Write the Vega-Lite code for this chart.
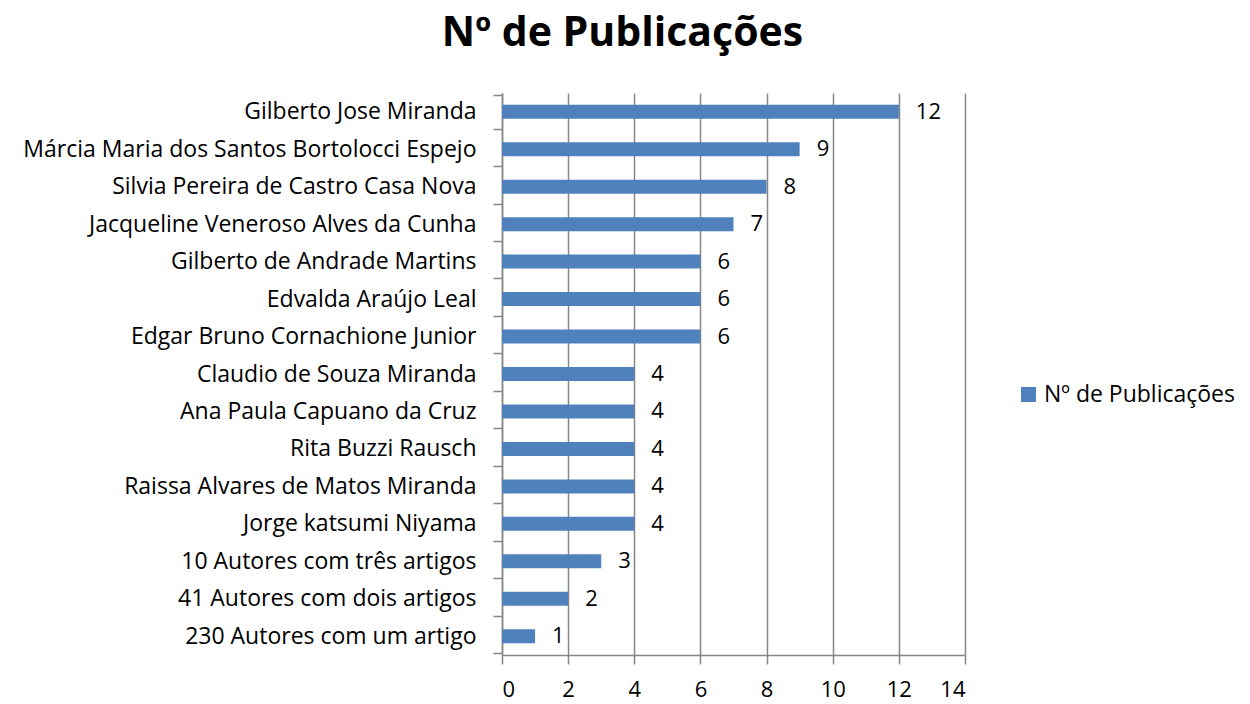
{
  "$schema": "https://vega.github.io/schema/vega-lite/v6.json",
  "width": 463,
  "height": 562,
  "autosize": "none",
  "padding": {"left": 502, "top": 93, "right": 285, "bottom": 49},
  "background": "white",
  "config": {
    "font": "Open Sans",
    "view": {"stroke": null}
  },
  "title": {
    "text": "Nº de Publicações",
    "font": "Open Sans",
    "fontSize": 41,
    "fontWeight": "bold",
    "color": "#000000",
    "anchor": "middle",
    "dx": -111,
    "offset": 27
  },
  "data": {
    "values": [
      {"autor": "Gilberto Jose Miranda", "n": 12},
      {"autor": "Márcia Maria dos Santos Bortolocci Espejo\u00a0", "n": 9},
      {"autor": "Silvia Pereira de Castro Casa Nova", "n": 8},
      {"autor": "Jacqueline Veneroso Alves da Cunha", "n": 7},
      {"autor": "Gilberto de Andrade Martins", "n": 6},
      {"autor": "Edvalda Araújo Leal\u00a0", "n": 6},
      {"autor": "Edgar Bruno Cornachione Junior", "n": 6},
      {"autor": "Claudio de Souza Miranda", "n": 4},
      {"autor": "Ana Paula Capuano da Cruz", "n": 4},
      {"autor": "Rita Buzzi Rausch", "n": 4},
      {"autor": "Raissa Alvares de Matos Miranda", "n": 4},
      {"autor": "Jorge katsumi Niyama", "n": 4},
      {"autor": "10 Autores com três artigos", "n": 3},
      {"autor": "41 Autores com dois artigos", "n": 2},
      {"autor": "230 Autores com um artigo", "n": 1}
    ]
  },
  "encoding": {
    "y": {
      "field": "autor",
      "type": "nominal",
      "sort": null,
      "title": null,
      "axis": {
        "domainColor": "#868686",
        "domainWidth": 1.5,
        "tickColor": "#868686",
        "tickWidth": 1.5,
        "tickSize": 9,
        "tickBand": "extent",
        "labelFont": "Open Sans",
        "labelFontSize": 23,
        "labelColor": "#000000",
        "labelPadding": 17,
        "labelLimit": 0
      }
    },
    "x": {
      "field": "n",
      "type": "quantitative",
      "title": null,
      "scale": {"domain": [0, 14], "nice": false},
      "axis": {
        "values": [0, 2, 4, 6, 8, 10, 12, 14],
        "grid": true,
        "gridColor": "#868686",
        "gridWidth": 1.5,
        "domainColor": "#868686",
        "domainWidth": 1.5,
        "tickColor": "#868686",
        "tickWidth": 1.5,
        "tickSize": 9,
        "labelFont": "Open Sans",
        "labelFontSize": 22,
        "labelColor": "#000000",
        "labelPadding": 15
      }
    }
  },
  "layer": [
    {
      "mark": {"type": "bar", "size": 14},
      "encoding": {
        "color": {
          "datum": "Nº de Publicações",
          "type": "nominal",
          "scale": {"range": ["#4F81BD"]},
          "legend": {
            "title": null,
            "orient": "none",
            "legendX": 515,
            "legendY": 290,
            "symbolType": "square",
            "symbolSize": 225,
            "symbolStrokeWidth": 0,
            "labelFont": "Open Sans",
            "labelFontSize": 23,
            "labelColor": "#000000",
            "labelLimit": 0
          }
        }
      }
    },
    {
      "mark": {"type": "text", "align": "left", "baseline": "middle", "dx": 17, "font": "Open Sans", "fontSize": 22, "color": "#000000"},
      "encoding": {
        "text": {"field": "n", "type": "quantitative"}
      }
    }
  ]
}
